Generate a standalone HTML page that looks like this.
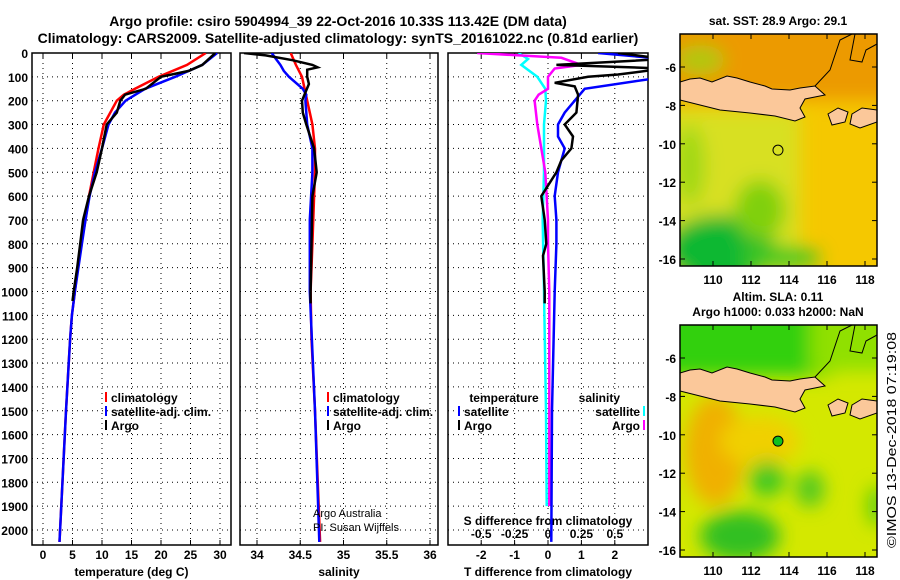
<!DOCTYPE html>
<html><head><meta charset="utf-8">
<style>
body{margin:0;background:#fff;}
svg{display:block;font-family:"Liberation Sans",sans-serif;font-weight:bold;}
</style></head>
<body>
<svg id="c" width="900" height="580" viewBox="0 0 900 580" xmlns="http://www.w3.org/2000/svg">
<defs>
<filter id="bl" x="-20%" y="-20%" width="140%" height="140%"><feGaussianBlur stdDeviation="9"/></filter>
<clipPath id="cm1"><rect x="680" y="34" width="197" height="232"/></clipPath>
<clipPath id="cm2"><rect x="680" y="325" width="197" height="232"/></clipPath>
<clipPath id="cp1"><rect x="32" y="53" width="199" height="492"/></clipPath>
<clipPath id="cp2"><rect x="240" y="53" width="198" height="492"/></clipPath>
<clipPath id="cp3"><rect x="448" y="53" width="200" height="492"/></clipPath>
</defs>
<text x="338" y="26" font-size="14" text-anchor="middle">Argo profile: csiro 5904994_39 22-Oct-2016 10.33S 113.42E (DM data)</text>
<text x="338" y="43" font-size="14" text-anchor="middle">Climatology: CARS2009. Satellite-adjusted climatology: synTS_20161022.nc (0.81d earlier)</text>
<g id="plots"></g>
<g id="maps"></g>
<text transform="translate(896,548) rotate(-90)" font-size="13" font-weight="normal" textLength="216" lengthAdjust="spacingAndGlyphs">©IMOS 13-Dec-2018 07:19:08</text>
</svg>
<script>
// ---- data ----
const tClimDepth=[0,50,100,150,175,200,300,400,500,600,700,800,900,1000,1100,1200,1500,2050];
const tClimVal=[27.6,24.4,19.6,15.6,13.7,12.5,10.3,9.4,8.6,7.8,7.2,6.5,5.9,5.4,4.9,4.6,3.9,2.8];
const tSatDepth=[0,50,100,150,200,250,300,400,500,600,700,800,900,1000,1100,1200,1500,2050];
const tSatVal=[29.5,27,22.4,17.3,14,12.2,11.1,10,8.8,7.9,7.2,6.6,6.0,5.4,4.9,4.6,3.9,2.8];
const tArgoDepth=[0,50,75,100,150,175,200,250,300,400,500,600,700,800,900,1000,1040];
const tArgoVal=[29.2,27,24.7,20,17.4,13.9,13.1,12.5,10.8,10,9.1,7.8,6.8,6.3,5.8,5.2,5.0];
const sClimDepth=[0,50,100,200,300,400,500,600,800,1000,1200,1500,2050];
const sClimVal=[34.39,34.45,34.52,34.58,34.64,34.67,34.67,34.66,34.64,34.62,34.63,34.67,34.73];
const sSatDepth=[0,25,50,75,100,150,175,200,300,400,500,700,1000,1500,2050];
const sSatVal=[34.17,34.22,34.27,34.31,34.37,34.53,34.57,34.56,34.58,34.64,34.64,34.61,34.61,34.67,34.72];
const sArgoDepth=[0,10,30,50,60,70,100,130,200,250,300,400,500,600,800,1000,1050];
const sArgoVal=[33.85,34.1,34.41,34.64,34.7,34.58,34.58,34.6,34.52,34.53,34.57,34.66,34.69,34.64,34.63,34.62,34.62];
const dtSatDepth=[0,25,100,150,200,250,300,350,400,500,600,700,800,1000,1500,2050];
const dtSatVal=[1.5,3.5,3.5,1.1,0.8,0.5,0.3,0.3,0.5,0.3,0.2,0.25,0.25,0.2,0.12,0.1];
const dtArgoDepth=[0,25,50,65,90,100,125,140,175,250,300,350,400,450,500,600,650,700,800,850,1000,1050];
const dtArgoVal=[2.1,3.5,0.25,3.5,2.1,1.2,0.2,0.8,0.9,0.85,0.5,0.75,0.7,0.4,0.25,-0.2,-0.15,-0.1,-0.05,-0.15,-0.1,-0.1];
const dsArgoDepth=[0,20,50,65,100,150,175,200,300,400,500,700,800,1000,1500,1900];
const dsArgoVal=[-0.53,0.1,0.25,0.05,0,0,-0.07,-0.1,-0.08,-0.05,-0.02,0,0,0.01,0.01,0.01];
const dsSatDepth=[0,25,50,100,150,200,300,500,700,1000,1500,1900];
const dsSatVal=[-0.22,-0.15,-0.2,-0.08,-0.02,-0.015,-0.03,-0.03,-0.04,-0.03,-0.015,-0.01];
const depthTicks=[0,100,200,300,400,500,600,700,800,900,1000,1100,1200,1300,1400,1500,1600,1700,1800,1900,2000];
const tTicks=[0,5,10,15,20,25,30];
const sTicks=[34,34.5,35,35.5,36];
const sTickLabels=["34","34.5","35","35.5","36"];
const dtTicks=[-2,-1,0,1,2];
const dsTicks=[-0.5,-0.25,0,0.25,0.5];
const dsTickLabels=["-0.5","-0.25","0","0.25","0.5"];
const latTicks=[-6,-8,-10,-12,-14,-16];
const lonTicks=[110,112,114,116,118];

// ---- scales ----
const yD=d=>53+d*0.2385;
const xT=v=>43+v*5.9;
const xS=v=>257+(v-34)*86.5;
const xDT=v=>548+v*33.4;
const xDS=v=>548+v*133.6;
const NS="http://www.w3.org/2000/svg";
const plots=document.getElementById('plots');
function mk(tag,attrs,parent){const e=document.createElementNS(NS,tag);for(const k in attrs)e.setAttribute(k,attrs[k]);(parent||plots).appendChild(e);return e;}
function txt(s,x,y,size,anchor,parent,col){const e=mk('text',{x:x,y:y,'font-size':size,'text-anchor':anchor||'middle',fill:col||'#000'},parent);e.textContent=s;return e;}

function panel(name,x0,x1,xs,ticks,labels,title){
  const g=mk('g',{});
  
  
  depthTicks.forEach(d=>{mk('line',{x1:x0,x2:x1,y1:yD(d),y2:yD(d),stroke:'#000','stroke-dasharray':'1,4','stroke-width':1},g);});
  ticks.forEach((t,i)=>{const X=xs(t);
    mk('line',{x1:X,x2:X,y1:53,y2:545,stroke:'#000','stroke-dasharray':'1,4'},g);
    mk('line',{x1:X,x2:X,y1:545,y2:540,stroke:'#000'},g);
    mk('line',{x1:X,x2:X,y1:53,y2:58,stroke:'#000'},g);
    if(labels){const e=txt(labels[i],X,559,12,'middle',g);}
  });
  const r=mk('rect',{x:x0,y:53,width:x1-x0,height:492,fill:'none',stroke:'#000','stroke-width':1.5},g);
  
  
  if(title){const e=txt(title,(x0+x1)/2,576,12,'middle',g);}
  return g;
}
function series(name,depths,vals,xs,col,clip){
  const p=depths.map((d,i)=>xs(vals[i]).toFixed(1)+','+yD(d).toFixed(1)).join(' ');
  const e=mk('polyline',{points:p,fill:'none',stroke:col,'stroke-width':2.5,'clip-path':'url(#'+clip+')'});
  
  
}
panel('temperature-panel',32,231,xT,tTicks,tTicks.map(String),'temperature (deg C)');
panel('salinity-panel',240,438,xS,sTicks,sTickLabels,'salinity');
panel('difference-panel',448,648,xDT,dtTicks,dtTicks.map(String),'T difference from climatology');
depthTicks.forEach(d=>{const e=txt(String(d),28,yD(d)+5,12,'end');});
dsTicks.forEach((t,i)=>{const e=txt(dsTickLabels[i],xDS(t),538,12,'middle');});
{const e=txt('S difference from climatology',548,525,12,'middle');}
series('temp-climatology-line',tClimDepth,tClimVal,xT,'#f00','cp1');
series('temp-satellite-line',tSatDepth,tSatVal,xT,'#00f','cp1');
series('temp-argo-line',tArgoDepth,tArgoVal,xT,'#000','cp1');
series('sal-climatology-line',sClimDepth,sClimVal,xS,'#f00','cp2');
series('sal-satellite-line',sSatDepth,sSatVal,xS,'#00f','cp2');
series('sal-argo-line',sArgoDepth,sArgoVal,xS,'#000','cp2');
series('sdiff-satellite-line',dsSatDepth,dsSatVal,xDS,'#0ff','cp3');
series('sdiff-argo-line',dsArgoDepth,dsArgoVal,xDS,'#f0f','cp3');
series('tdiff-satellite-line',dtSatDepth,dtSatVal,xDT,'#00f','cp3');
series('tdiff-argo-line',dtArgoDepth,dtArgoVal,xDT,'#000','cp3');
function legend(x,y,items,anchorRight){items.forEach((it,i)=>{
  const g=mk('g',{});
  const yy=y+i*14;
  mk('line',{x1:x,x2:x,y1:yy-10,y2:yy,stroke:it[1],'stroke-width':2},g);
  if(anchorRight){txt(it[0],x-4,yy,12,'end',g);}
  else{txt(it[0],x+5,yy,12,'start',g);}
});}
legend(106,402,[['climatology','#f00'],['satellite-adj. clim.','#00f'],['Argo','#000']]);
legend(328,402,[['climatology','#f00'],['satellite-adj. clim.','#00f'],['Argo','#000']]);
{const e=txt('temperature',504,402,12,'middle');}
legend(459,416,[['satellite','#00f'],['Argo','#000']]);
{const e=txt('salinity',620,402,12,'end');}
legend(644,416,[['satellite','#0ff'],['Argo','#f0f']],true);
{const e=txt('Argo Australia',313,517,11,'start');e.setAttribute('font-weight','normal');}
{const e=txt('PI: Susan Wijffels',313,531,11,'start');e.setAttribute('font-weight','normal');}

// ---- maps ----
const maps=document.getElementById('maps');
const xLon=l=>713+(l-110)*19;
function javaPts(o){return [[680,100],[680,82],[690,79],[700,78],[712,82],[727,76],[737,78],[750,82],[765,86],[772,89],[790,90],[800,88],[815,86],[825,95],[805,99],[800,108],[805,117],[795,121],[775,116],[750,113],[720,110],[700,105]].map(p=>p[0]+','+(p[1]+o)).join(' ');}
function isl(o){return [[828,114],[838,108],[848,112],[845,122],[832,125]].map(p=>p[0]+','+(p[1]+o)).join(' ');}
function isl2(o){return [[852,114],[862,108],[877,110],[877,122],[860,128],[850,124]].map(p=>p[0]+','+(p[1]+o)).join(' ');}
function mapPanel(name,o,clip,kind,title1,title2){
  const g=mk('g',{},maps);
  
  
  const yLat=l=>67+o+(-6-l)*19.2;
  const inner=mk('g',{'clip-path':'url(#'+clip+')'},g);
  if(kind===1){
    mk('rect',{x:680,y:34+o,width:197,height:232,fill:'#f5c800'},inner);
    const b=mk('g',{filter:'url(#bl)'},inner);
    mk('rect',{x:660,y:10+o,width:240,height:90,fill:'#ec9a00'},b);
    mk('rect',{x:660,y:110+o,width:140,height:170,fill:'#d8e020'},b);
    mk('ellipse',{cx:720,cy:250+o,rx:55,ry:35,fill:'#10b830'},b);
    mk('ellipse',{cx:780,cy:258+o,rx:40,ry:12,fill:'#40c820'},b);
    mk('ellipse',{cx:760,cy:210+o,rx:25,ry:30,fill:'#80d010'},b);
    mk('ellipse',{cx:690,cy:165+o,rx:15,ry:40,fill:'#a0d818'},b);
    mk('ellipse',{cx:700,cy:60+o,rx:25,ry:15,fill:'#b0c810'},b);
  } else {
    mk('rect',{x:680,y:34+o,width:197,height:232,fill:'#d4e800'},inner);
    const b=mk('g',{filter:'url(#bl)'},inner);
    mk('rect',{x:650,y:10+o,width:180,height:75,fill:'#30d010'},b);
    mk('rect',{x:810,y:10+o,width:100,height:70,fill:'#90e000'},b);
    mk('ellipse',{cx:715,cy:160+o,rx:30,ry:55,fill:'#f0b000'},b);
    mk('ellipse',{cx:760,cy:150+o,rx:40,ry:25,fill:'#f0d000'},b);
    mk('ellipse',{cx:740,cy:245+o,rx:40,ry:25,fill:'#30c020'},b);
    mk('ellipse',{cx:767,cy:188+o,rx:18,ry:18,fill:'#40c820'},b);
    mk('ellipse',{cx:810,cy:198+o,rx:14,ry:18,fill:'#50c820'},b);
    mk('ellipse',{cx:877,cy:215+o,rx:10,ry:20,fill:'#60d010'},b);
  }
  [javaPts(o),isl(o),isl2(o)].forEach(p=>mk('polygon',{points:p,fill:'#fbc89a',stroke:'#000','stroke-width':1},inner));
  mk('polyline',{points:`815,${86+o} 830,${70+o} 840,${40+o} 852,${34+o}`,fill:'none',stroke:'#000'},inner);
  mk('polyline',{points:`855,${34+o} 850,${60+o} 862,${62+o} 866,${50+o} 877,${44+o}`,fill:'none',stroke:'#000'},inner);
  const c=mk('circle',{cx:xLon(113.42),cy:yLat(-10.33),r:5,fill:kind===2?'#10c020':'none',stroke:'#000','stroke-width':1},g);
  
  
  mk('rect',{x:680,y:34+o,width:197,height:232,fill:'none',stroke:'#000','stroke-width':1.5},g);
  latTicks.forEach(l=>{const Y=yLat(l);mk('line',{x1:872,x2:877,y1:Y,y2:Y,stroke:'#000'},g);mk('line',{x1:680,x2:685,y1:Y,y2:Y,stroke:'#000'},g);
    const e=txt(String(l),676,Y+5,12,'end',g);});
  lonTicks.forEach(l=>{const X=xLon(l);mk('line',{x1:X,x2:X,y1:261+o,y2:266+o,stroke:'#000'},g);mk('line',{x1:X,x2:X,y1:34+o,y2:39+o,stroke:'#000'},g);
    const e=txt(String(l),X,284+o,12,'middle',g);});
  if(title2){const e=txt(title1,778,10+o,12,'middle',g);
    const e2=txt(title2,778,25+o,12,'middle',g);}
  else{const e=txt(title1,778,25+o,12,'middle',g);}
}
mapPanel('sst-map',0,'cm1',1,'sat. SST: 28.9 Argo: 29.1');
mapPanel('sla-map',291,'cm2',2,'Altim. SLA: 0.11','Argo h1000: 0.033 h2000: NaN');
</script>
</body></html>
